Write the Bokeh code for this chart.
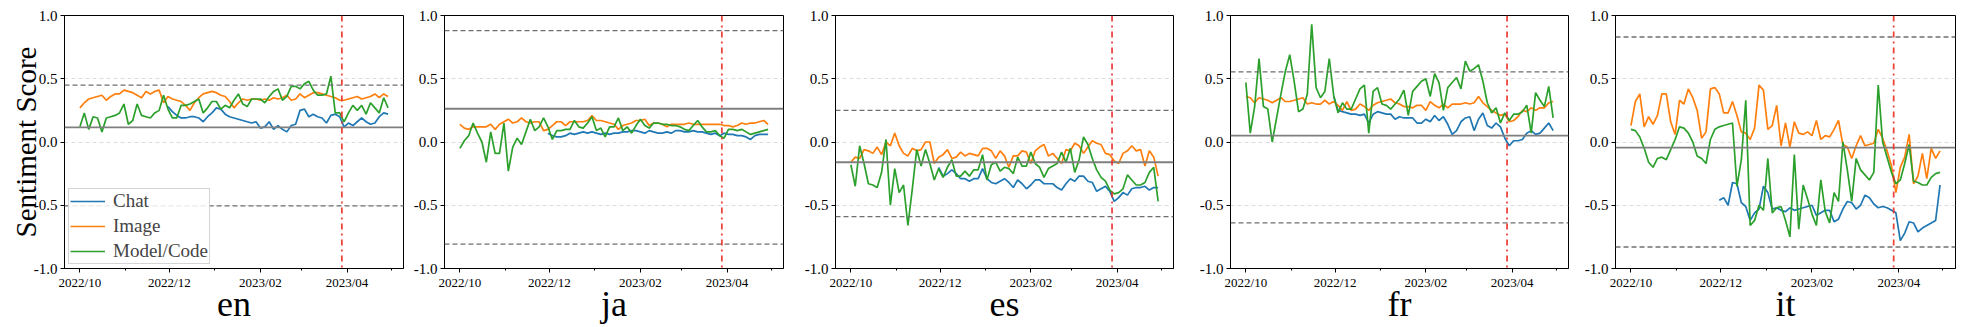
import pandas as pd
from bokeh.plotting import figure
from bokeh.layouts import row
from bokeh.models import Span, FixedTicker, DatetimeTickFormatter, PrintfTickFormatter, Range1d
from bokeh.embed import file_html
from bokeh.resources import INLINE

# ---------------- data ----------------
LANGS = ["en", "ja", "es", "fr", "it"]
SERIES = ["Chat", "Image", "Model/Code"]
START_DATE = "2022-10-01"      # first sample (3-day step)
CHAT_START_DATE = "2022-11-30"  # Chat series starts after launch
STEP = "3D"
EVENT_DATE = "2023-03-28 12:00"
X_START, X_END = "2022-09-20 12:00", "2023-05-09 12:00"
MAJOR_TICK_DATES = ["2022-10-01", "2022-12-01", "2023-02-01", "2023-04-01"]
MINOR_TICK_DATES = ["2022-11-01", "2023-01-01", "2023-03-01", "2023-05-01"]
Y_TICKS = [-1.0, -0.5, 0.0, 0.5, 1.0]
Y_GRID = [-0.5, 0.0, 0.5]

en_image = [0.27,0.31,0.34,0.35,0.36,0.37,0.33,0.36,0.38,0.38,
            0.41,0.40,0.39,0.37,0.35,0.40,0.38,0.40,0.41,0.31,
            0.36,0.34,0.33,0.32,0.29,0.25,0.31,0.35,0.38,0.39,
            0.40,0.39,0.37,0.36,0.32,0.27,0.31,0.34,0.33,0.34,
            0.34,0.33,0.34,0.33,0.35,0.34,0.35,0.37,0.33,0.34,
            0.38,0.35,0.37,0.39,0.39,0.38,0.37,0.36,0.35,0.33,
            0.33,0.34,0.35,0.36,0.34,0.35,0.36,0.38,0.35,0.38,
            0.36]
en_code = [0.12,0.23,0.10,0.20,0.19,0.08,0.19,0.20,0.21,0.23,
           0.30,0.14,0.17,0.30,0.21,0.20,0.19,0.23,0.25,0.37,
           0.26,0.19,0.19,0.29,0.29,0.30,0.32,0.34,0.23,0.27,
           0.32,0.32,0.26,0.29,0.27,0.33,0.38,0.30,0.28,0.34,
           0.34,0.34,0.31,0.36,0.40,0.42,0.33,0.36,0.44,0.44,
           0.42,0.46,0.48,0.41,0.37,0.37,0.38,0.52,0.23,0.23,
           0.16,0.23,0.29,0.25,0.29,0.22,0.31,0.27,0.23,0.35,
           0.27]
en_chat = [0.28,0.24,0.21,0.19,0.19,0.20,0.20,0.19,0.16,0.20,
           0.23,0.27,0.26,0.22,0.20,0.19,0.18,0.17,0.16,0.15,
           0.16,0.11,0.12,0.16,0.10,0.13,0.10,0.08,0.13,0.14,
           0.25,0.26,0.20,0.22,0.20,0.19,0.15,0.21,0.22,0.20,
           0.12,0.15,0.13,0.16,0.19,0.16,0.14,0.15,0.20,0.23,
           0.22]

ja_image = [0.14,0.11,0.10,0.12,0.12,0.12,0.12,0.14,0.10,0.14,
            0.16,0.18,0.15,0.16,0.19,0.16,0.15,0.16,0.16,0.09,
            0.10,0.13,0.16,0.16,0.13,0.16,0.16,0.16,0.16,0.17,
            0.21,0.17,0.17,0.16,0.15,0.14,0.10,0.13,0.14,0.15,
            0.17,0.17,0.18,0.13,0.15,0.15,0.14,0.12,0.14,0.14,
            0.14,0.14,0.15,0.14,0.14,0.14,0.14,0.14,0.14,0.14,
            0.13,0.13,0.12,0.13,0.15,0.14,0.15,0.15,0.16,0.17,
            0.14]
ja_code = [-0.05,0.01,0.05,0.15,0.07,0.00,-0.16,0.08,-0.09,-0.09,
           0.15,-0.23,-0.04,0.03,-0.02,0.08,0.18,0.09,0.12,0.19,
           0.12,0.02,0.09,0.09,0.10,0.10,0.17,0.12,0.11,0.15,
           0.20,0.09,0.11,0.04,0.12,0.12,0.19,0.09,0.12,0.07,
           0.13,0.18,0.13,0.11,0.15,0.15,0.14,0.14,0.13,0.13,
           0.12,0.10,0.09,0.13,0.17,0.12,0.08,0.08,0.09,0.05,
           0.03,0.10,0.10,0.09,0.10,0.08,0.06,0.07,0.08,0.09,
           0.10]
ja_chat = [0.07,0.05,0.04,0.04,0.05,0.07,0.06,0.07,0.08,0.07,
           0.08,0.07,0.06,0.07,0.06,0.07,0.07,0.08,0.08,0.09,
           0.09,0.08,0.07,0.09,0.08,0.07,0.07,0.08,0.07,0.09,
           0.09,0.08,0.08,0.09,0.08,0.08,0.07,0.06,0.07,0.05,
           0.07,0.06,0.06,0.05,0.05,0.04,0.02,0.05,0.06,0.06,
           0.06]

es_image = [-0.16,-0.12,-0.13,-0.06,-0.07,-0.09,-0.04,-0.10,0.00,-0.03,
            0.07,-0.03,-0.09,-0.11,-0.05,-0.07,-0.06,0.00,0.00,-0.17,
            -0.12,-0.10,-0.06,-0.13,-0.12,-0.08,-0.11,-0.09,-0.10,-0.11,
            -0.05,-0.05,-0.07,-0.13,-0.07,-0.11,-0.20,-0.11,-0.11,-0.07,
            -0.08,-0.17,-0.07,-0.04,-0.02,-0.11,-0.09,-0.13,-0.17,-0.06,
            -0.07,-0.01,-0.03,-0.09,-0.04,0.01,-0.01,-0.02,-0.09,-0.10,
            -0.15,-0.17,-0.09,-0.07,-0.03,-0.07,-0.06,-0.19,-0.07,-0.12,
            -0.27]
es_code = [-0.18,-0.35,-0.03,-0.17,-0.33,-0.34,-0.36,-0.24,0.02,-0.50,
           -0.21,-0.40,-0.34,-0.66,-0.37,-0.06,-0.19,-0.06,-0.17,-0.30,
           -0.21,-0.28,-0.20,-0.14,-0.27,-0.27,-0.23,-0.27,-0.22,-0.22,
           -0.10,-0.30,-0.18,-0.16,-0.23,-0.20,-0.21,-0.25,-0.12,-0.19,
           -0.19,-0.08,-0.17,-0.20,-0.28,-0.21,-0.19,-0.17,-0.08,-0.16,
           -0.05,-0.24,-0.14,0.04,-0.02,-0.13,-0.22,-0.28,-0.31,-0.38,
           -0.41,-0.40,-0.37,-0.26,-0.30,-0.34,-0.34,-0.32,-0.24,-0.20,
           -0.47]
es_chat = [-0.20,-0.27,-0.25,-0.22,-0.25,-0.29,-0.29,-0.31,-0.29,-0.29,
           -0.21,-0.29,-0.32,-0.33,-0.31,-0.29,-0.32,-0.36,-0.30,-0.33,
           -0.37,-0.34,-0.30,-0.30,-0.33,-0.33,-0.33,-0.36,-0.38,-0.33,
           -0.29,-0.31,-0.27,-0.27,-0.31,-0.32,-0.39,-0.37,-0.35,-0.39,
           -0.47,-0.44,-0.40,-0.42,-0.37,-0.36,-0.36,-0.35,-0.38,-0.36,
           -0.36]

fr_image = [0.36,0.35,0.31,0.35,0.34,0.33,0.31,0.33,0.35,0.32,
            0.32,0.33,0.34,0.35,0.30,0.31,0.30,0.30,0.33,0.30,
            0.32,0.29,0.25,0.32,0.25,0.26,0.30,0.28,0.25,0.29,
            0.31,0.32,0.33,0.34,0.31,0.30,0.28,0.28,0.27,0.29,
            0.29,0.25,0.32,0.29,0.27,0.30,0.27,0.30,0.30,0.30,
            0.31,0.30,0.31,0.36,0.31,0.28,0.25,0.23,0.21,0.22,
            0.16,0.17,0.20,0.25,0.24,0.27,0.25,0.27,0.27,0.31,
            0.32]
fr_code = [0.47,0.07,0.28,0.66,0.28,0.26,0.00,0.19,0.38,0.56,
           0.69,0.48,0.24,0.26,0.38,0.93,0.43,0.35,0.40,0.66,
           0.37,0.23,0.31,0.26,0.26,0.34,0.42,0.45,0.07,0.40,
           0.43,0.30,0.29,0.26,0.30,0.34,0.41,0.21,0.40,0.44,
           0.48,0.50,0.36,0.54,0.47,0.25,0.43,0.47,0.51,0.42,
           0.64,0.56,0.58,0.61,0.48,0.31,0.23,0.27,0.15,0.23,
           0.17,0.22,0.22,0.24,0.29,0.07,0.39,0.33,0.28,0.44,
           0.19]
fr_chat = [0.36,0.25,0.24,0.23,0.22,0.22,0.21,0.22,0.15,0.22,
           0.24,0.23,0.22,0.22,0.18,0.20,0.19,0.19,0.19,0.15,
           0.15,0.18,0.16,0.21,0.17,0.20,0.14,0.06,0.09,0.16,
           0.19,0.20,0.09,0.18,0.23,0.13,0.11,0.15,0.12,0.03,
           -0.03,0.01,0.01,0.02,0.07,0.09,0.06,0.07,0.11,0.15,
           0.09]

it_image = [0.13,0.32,0.38,0.12,0.20,0.14,0.21,0.38,0.38,0.16,
            0.06,0.33,0.30,0.42,0.35,0.25,0.03,0.08,0.42,0.43,
            0.38,0.23,0.23,0.32,0.21,0.08,0.07,0.02,0.11,0.45,
            0.41,0.10,0.13,0.29,-0.03,0.15,-0.04,0.16,0.07,0.06,
            0.08,0.05,0.17,0.02,0.05,0.04,0.10,0.17,-0.02,-0.04,
            -0.13,-0.03,0.05,-0.03,-0.02,-0.01,0.10,0.03,-0.07,-0.19,
            -0.40,-0.20,-0.12,0.06,-0.33,-0.27,-0.09,-0.29,-0.05,-0.13,
            -0.07]
it_code = [0.10,0.09,0.04,-0.05,-0.16,-0.20,-0.13,-0.12,-0.14,-0.06,
           0.02,0.12,0.11,0.07,0.00,-0.11,-0.13,-0.17,0.02,0.10,
           0.12,0.13,0.14,0.15,-0.35,-0.14,0.33,-0.66,-0.62,-0.50,
           -0.54,-0.13,-0.56,-0.52,-0.51,-0.62,-0.75,-0.10,-0.69,-0.34,
           -0.45,-0.57,-0.66,-0.30,-0.55,-0.64,-0.40,-0.47,0.00,-0.22,
           -0.47,-0.13,-0.22,-0.26,-0.30,-0.24,0.45,0.00,-0.12,-0.24,
           -0.33,-0.30,-0.17,-0.02,-0.31,-0.32,-0.34,-0.34,-0.28,-0.25,
           -0.24]
it_chat = [-0.46,-0.44,-0.50,-0.32,-0.33,-0.48,-0.51,-0.62,-0.56,-0.53,
           -0.35,-0.40,-0.53,-0.52,-0.54,-0.55,-0.52,-0.54,-0.53,-0.52,
           -0.51,-0.50,-0.58,-0.56,-0.54,-0.54,-0.63,-0.61,-0.53,-0.47,
           -0.48,-0.53,-0.50,-0.42,-0.44,-0.49,-0.52,-0.51,-0.52,-0.54,
           -0.56,-0.78,-0.72,-0.63,-0.64,-0.71,-0.68,-0.66,-0.64,-0.62,
           -0.34]

# horizontal reference levels per language (solid centre, dashed upper/lower)
center_level = [0.115, 0.263, -0.16, 0.05, -0.045]
upper_level = [0.45, 0.88, 0.25, 0.555, 0.83]
lower_level = [-0.505, -0.807, -0.59, -0.64, -0.83]

DATA = {
    "en": (en_chat, en_image, en_code),
    "ja": (ja_chat, ja_image, ja_code),
    "es": (es_chat, es_image, es_code),
    "fr": (fr_chat, fr_image, fr_code),
    "it": (it_chat, it_image, it_code),
}

# ---------------- styling / layout ----------------
COLORS = ["#1f77b4", "#ff7f0e", "#2ca02c"]
FONT = "Liberation Serif"
# (figure width, left border, right border)
LAYOUT = [(410, 64, 7), (390, 32, 17), (395, 35, 22), (385, 35, 12), (381, 35, 6)]
FIG_H = 327
BORDER_TOP = 15
BORDER_BOTTOM = 59


def ms(s):
    return pd.Timestamp(s).value / 1e6


figs = []
for k, lang in enumerate(LANGS):
    w, bl, br = LAYOUT[k]
    chat, image, code = DATA[lang]
    dates = pd.date_range(START_DATE, periods=len(image), freq=STEP)
    chat_dates = pd.date_range(CHAT_START_DATE, periods=len(chat), freq=STEP)

    p = figure(width=w, height=FIG_H, x_axis_type="datetime",
               x_range=Range1d(ms(X_START), ms(X_END)), y_range=Range1d(-1.0, 1.0),
               output_backend="svg", toolbar_location=None,
               min_border_left=bl, min_border_right=br,
               min_border_top=BORDER_TOP, min_border_bottom=BORDER_BOTTOM)
    p.background_fill_color = "white"
    p.border_fill_color = "white"
    p.outline_line_color = "black"
    p.outline_line_width = 1

    p.xgrid.visible = False
    p.ygrid.ticker = FixedTicker(ticks=Y_GRID)
    p.ygrid.grid_line_color = "#dddddd"
    p.ygrid.grid_line_dash = "4 3"
    p.ygrid.grid_line_width = 1

    # reference lines
    p.add_layout(Span(location=center_level[k], dimension="width",
                      line_color="#7f7f7f", line_width=1.8))
    for lvl in (upper_level[k], lower_level[k]):
        p.add_layout(Span(location=lvl, dimension="width", line_color="#6f6f6f",
                          line_width=1.3, line_dash="5 3"))

    for j, (xs, ys) in enumerate([(chat_dates, chat), (dates, image), (dates, code)]):
        extra = {"legend_label": SERIES[j]} if k == 0 else {}
        p.line(xs, ys, line_color=COLORS[j], line_width=1.7, **extra)

    p.add_layout(Span(location=ms(EVENT_DATE), dimension="height",
                      line_color="#e8312a", line_width=1.8, line_dash="dashdot",
                      line_alpha=0.9))

    # axes
    xa = p.xaxis[0]
    xa.ticker = FixedTicker(ticks=[ms(d) for d in MAJOR_TICK_DATES],
                            minor_ticks=[ms(d) for d in MINOR_TICK_DATES])
    xa.formatter = DatetimeTickFormatter(months="%Y/%m", days="%Y/%m",
                                         years="%Y/%m", hours="%Y/%m")
    xa.major_label_text_font = FONT
    xa.major_label_text_font_size = "13px"
    xa.major_label_text_color = "black"
    xa.major_label_standoff = 2
    xa.major_tick_in = 0
    xa.major_tick_out = 4
    xa.minor_tick_in = 0
    xa.minor_tick_out = 2
    xa.axis_label = lang
    xa.axis_label_text_font = FONT
    xa.axis_label_text_font_size = "36px"
    xa.axis_label_text_font_style = "normal"
    xa.axis_label_text_color = "black"
    xa.axis_label_standoff = -9
    xa.axis_line_color = "black"

    ya = p.yaxis[0]
    ya.ticker = FixedTicker(ticks=Y_TICKS)
    ya.formatter = PrintfTickFormatter(format="%.1f")
    ya.major_label_text_font = FONT
    ya.major_label_text_font_size = "15px"
    ya.major_label_text_color = "black"
    ya.major_label_standoff = 3
    ya.major_tick_in = 0
    ya.major_tick_out = 4
    ya.minor_tick_line_color = None
    ya.axis_line_color = "black"
    if k == 0:
        ya.axis_label = "Sentiment Score"
        ya.axis_label_text_font = FONT
        ya.axis_label_text_font_size = "29px"
        ya.axis_label_text_font_style = "normal"
        ya.axis_label_text_color = "black"
        ya.axis_label_standoff = -11

        lg = p.legend[0]
        lg.location = "bottom_left"
        lg.margin = 4
        lg.padding = 1
        lg.spacing = 3
        lg.glyph_width = 35
        lg.glyph_height = 20
        lg.label_height = 20
        lg.label_standoff = 8
        lg.label_text_font = FONT
        lg.label_text_font_size = "19px"
        lg.border_line_color = "#aaaaaa"
        lg.border_line_width = 1
        lg.background_fill_alpha = 0.85
    figs.append(p)

layout = row(*figs, spacing=0)
open("out.html", "w").write(file_html(layout, INLINE))
